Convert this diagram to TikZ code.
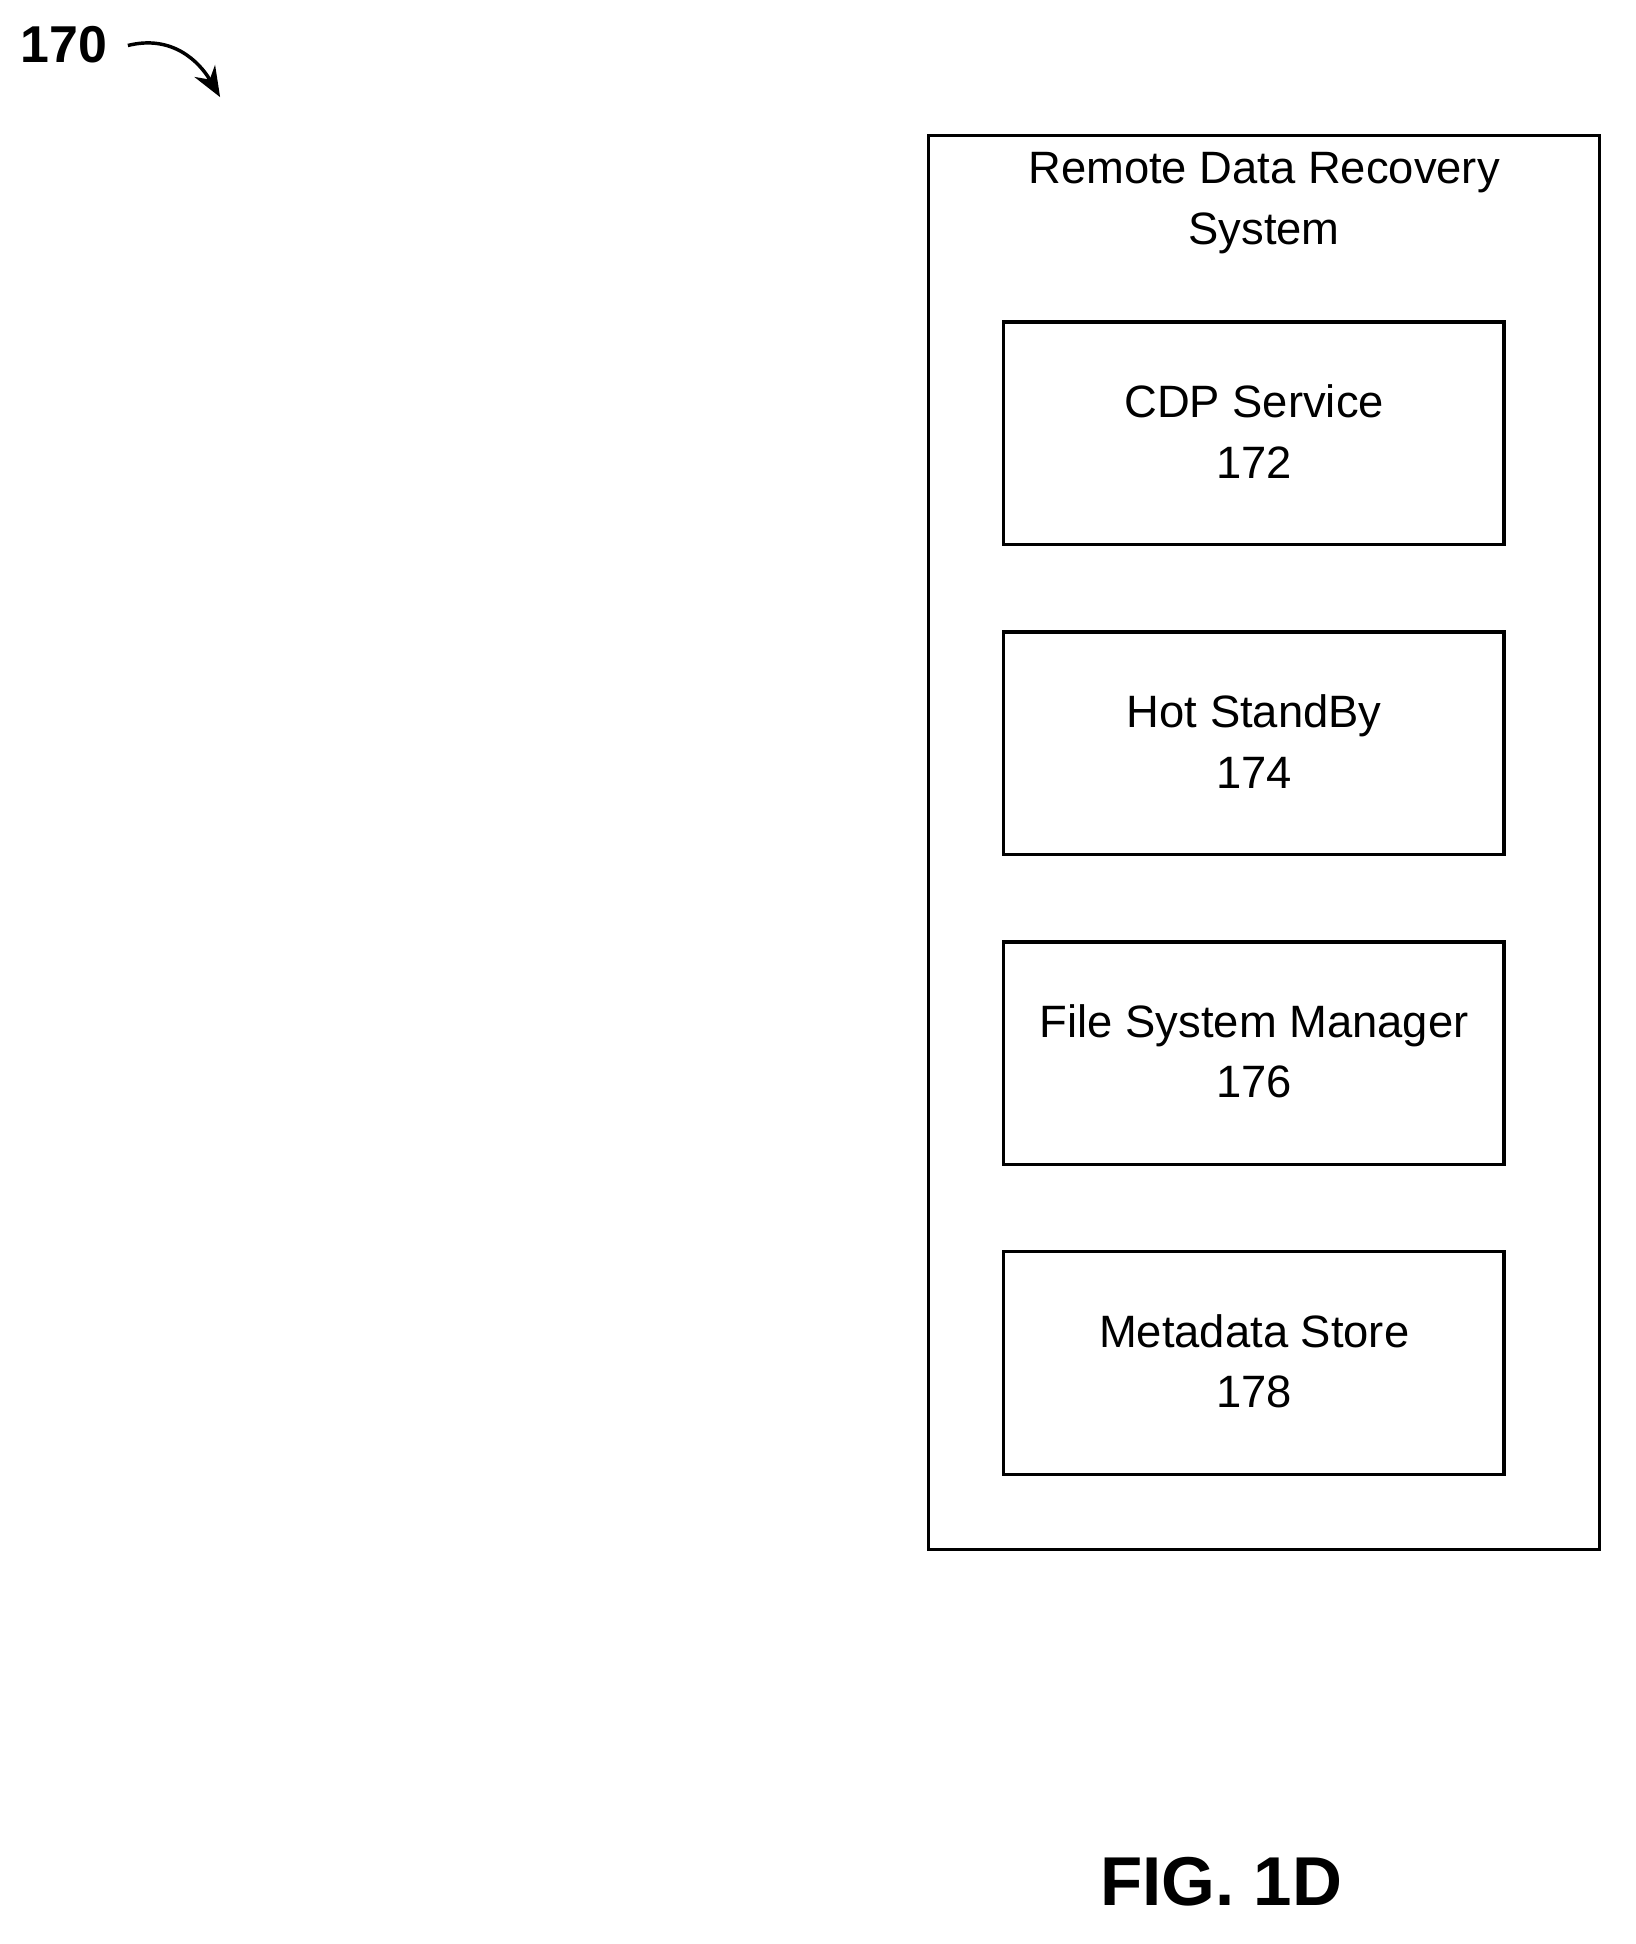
\documentclass[tikz,border=0pt]{standalone}
\usepackage{fontspec}
\setmainfont{Liberation Sans}
\usetikzlibrary{arrows.meta}
\begin{document}
\begin{tikzpicture}[x=0.02cm,y=-0.02cm,
  box/.style={draw,line width=1.6pt},
  lbl/.style={font=\fontsize{21}{28}\selectfont,align=center}]
\useasboundingbox (0,0) rectangle (1330,1581);
\draw[box] (755,110) rectangle (1301,1260);
\node[lbl] (title) at (1028,165) {Remote Data Recovery\\System};
\draw[box] (816,262) rectangle (1223,443);
\node[lbl] (a) at (1020,351) {CDP Service\\172};
\draw[box] (816,514) rectangle (1223,695);
\node[lbl] (b) at (1020,603) {Hot StandBy\\174};
\draw[box] (816,766) rectangle (1223,947);
\node[lbl] (c) at (1020,855) {File System Manager\\176};
\draw[box] (816,1018) rectangle (1223,1199);
\node[lbl] (d) at (1020,1107) {Metadata Store\\178};
\node[font=\bfseries\fontsize{24}{28}\selectfont] (n170) at (52,36) {170};
\coordinate (e) at (179,79);
\draw[line width=1.6pt,-{Stealth[length=14pt,width=11pt]}] (104,37) .. controls (140,28) and (162,50) .. (e);
\node[font=\bfseries\fontsize{32}{36}\selectfont] (fig) at (993,1530) {FIG. 1D};
\end{tikzpicture}
\end{document}
